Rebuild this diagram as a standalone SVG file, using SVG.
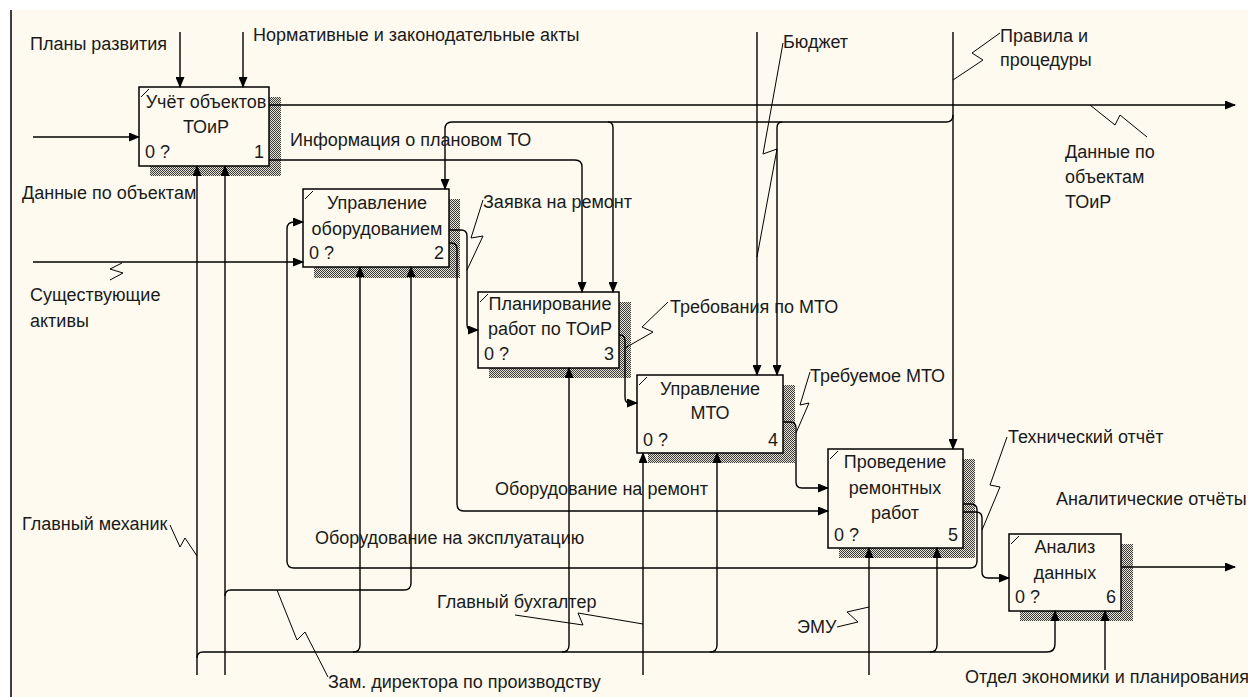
<svg xmlns="http://www.w3.org/2000/svg" width="1248" height="697" viewBox="0 0 1248 697">
<defs>
<pattern id="hatch" width="2" height="2" patternUnits="userSpaceOnUse">
<rect width="2" height="2" fill="#e6e2d6"/>
<rect x="0" y="0" width="1" height="1" fill="#3a3a3a"/>
<rect x="1" y="1" width="1" height="1" fill="#3a3a3a"/>
</pattern>
<marker id="arr" markerWidth="11" markerHeight="9" refX="10" refY="4.5" orient="auto" markerUnits="userSpaceOnUse">
<path d="M0,0 L11,4.5 L0,9 z" fill="#000"/>
</marker>
<style>
.bg{fill:#fefaf0}
.box{fill:#fefaf0;stroke:#000;stroke-width:1.5}
.sh{fill:url(#hatch)}
.tk{stroke:#000;stroke-width:1;fill:none}
.c{fill:none;stroke:#000;stroke-width:1.4}
.a{marker-end:url(#arr)}
.sq{fill:none;stroke:#000;stroke-width:1}
text{font-family:"Liberation Sans",Arial,sans-serif;font-size:18px;fill:#1a1a1a}
.m{text-anchor:middle}
.e{text-anchor:end}
</style>
</defs>
<rect x="0" y="0" width="1248" height="697" fill="#ffffff"/>
<rect class="bg" x="11" y="10" width="1237" height="687"/>
<line x1="11" y1="10" x2="11" y2="697" stroke="#000" stroke-width="1.5"/>

<g id="node1">
<rect class="sh" x="150" y="97" width="131" height="79"/>
<rect class="box" x="139" y="87" width="130" height="79"/>
<path class="tk" d="M141,97 L149,89"/>
<text class="m" x="206" y="108">Учёт объектов</text>
<text class="m" x="206" y="133">ТОиР</text>
<text x="145" y="158">0 ?</text>
<text class="e" x="264" y="158">1</text>
</g>

<g id="node2">
<rect class="sh" x="314" y="199" width="146" height="79"/>
<rect class="box" x="303" y="189" width="146" height="78"/>
<path class="tk" d="M305,199 L313,191"/>
<text class="m" x="377" y="209">Управление</text>
<text class="m" x="377" y="235">оборудованием</text>
<text x="309" y="259">0 ?</text>
<text class="e" x="444" y="259">2</text>
</g>

<g id="node3">
<rect class="sh" x="489" y="302" width="142" height="76"/>
<rect class="box" x="478" y="292" width="141" height="76"/>
<path class="tk" d="M480,302 L488,294"/>
<text class="m" x="550" y="310">Планирование</text>
<text class="m" x="550" y="335">работ по ТОиР</text>
<text x="484" y="360">0 ?</text>
<text class="e" x="614" y="360">3</text>
</g>

<g id="node4">
<rect class="sh" x="648" y="385" width="147" height="78"/>
<rect class="box" x="637" y="375" width="146" height="78"/>
<path class="tk" d="M639,385 L647,377"/>
<text class="m" x="710" y="395">Управление</text>
<text class="m" x="710" y="419">МТО</text>
<text x="643" y="446">0 ?</text>
<text class="e" x="778" y="446">4</text>
</g>

<g id="node5">
<rect class="sh" x="839" y="459" width="136" height="99"/>
<rect class="box" x="828" y="449" width="135" height="99"/>
<path class="tk" d="M830,459 L838,451"/>
<text class="m" x="895" y="468">Проведение</text>
<text class="m" x="895" y="494">ремонтных</text>
<text class="m" x="895" y="519">работ</text>
<text x="834" y="541">0 ?</text>
<text class="e" x="958" y="541">5</text>
</g>

<g id="node6">
<rect class="sh" x="1020" y="544" width="113" height="77"/>
<rect class="box" x="1009" y="534" width="112" height="77"/>
<path class="tk" d="M1011,544 L1019,536"/>
<text class="m" x="1065" y="553">Анализ</text>
<text class="m" x="1065" y="579">данных</text>
<text x="1015" y="603">0 ?</text>
<text class="e" x="1116" y="603">6</text>
</g>

<g id="connectors">
<path class="c a" d="M180,32 V87"/>
<path class="c a" d="M243,32 V87"/>
<path class="c a" d="M33,137 H139"/>
<path class="c a" d="M269,105 H1235"/>
<path class="c a" d="M269,160 H575 Q582,160 582,167 V292"/>
<path class="c a" d="M953,32 V449"/>
<path class="c a" d="M953,115 Q953,122 946,122 H452 Q445,122 445,129 V189"/>
<path class="c a" d="M608,122 Q613,122 613,128 V292"/>
<path class="c a" d="M782,122 Q777,122 777,128 V375"/>
<path class="c a" d="M757,32 V375"/>
<path class="c a" d="M33,262 H303"/>
<path class="c a" d="M963,504 H971 Q977,504 977,510 V561 Q977,568 970,568 H294 Q287,568 287,561 V229 Q287,222 294,222 H303"/>
<path class="c a" d="M449,230 H461 Q467,230 467,236 V324 Q467,330 471,330 H478"/>
<path class="c a" d="M449,243 H451 Q457,243 457,249 V504 Q457,511 464,511 H828"/>
<path class="c a" d="M619,335 H620 Q625,335 625,341 V397 Q625,403 629,403 H637"/>
<path class="c a" d="M783,422 H790 Q796,422 796,428 V482 Q796,488 802,488 H828"/>
<path class="c a" d="M963,512 H976 Q982,512 982,518 V572 Q982,578 988,578 H1009"/>
<path class="c a" d="M1121,567 H1235"/>
<path class="c a" d="M197,675 V166"/>
<path class="c a" d="M197,658 Q197,652 203,652 H1047 Q1055,652 1055,644 V611"/>
<path class="c a" d="M353,652 Q360,652 360,645 V267"/>
<path class="c a" d="M562,652 Q569,652 569,645 V368"/>
<path class="c a" d="M710,652 Q717,652 717,645 V453"/>
<path class="c a" d="M930,652 Q937,652 937,645 V548"/>
<path class="c a" d="M225,675 V166"/>
<path class="c a" d="M225,596 Q225,590 231,590 H404 Q411,590 411,583 V267"/>
<path class="c a" d="M643,675 V453"/>
<path class="c a" d="M869,675 V548"/>
<path class="c a" d="M1105,670 V611"/>
<polyline class="sq" points="122,263 110,269 123,273 110,280"/>
<polyline class="sq" points="170,525 180,547 185,538 197,556"/>
<polyline class="sq" points="277,590 297,640 305,632 328,677"/>
<polyline class="sq" points="515,615 583,625 578,613 643,624"/>
<polyline class="sq" points="837,627 858,622 847,612 869,607"/>
<polyline class="sq" points="668,302 642,327 653,332 625,348"/>
<polyline class="sq" points="810,372 800,405 809,403 796,433"/>
<polyline class="sq" points="783,43 763,154 777,149 757,257"/>
<polyline class="sq" points="1000,33 972,53 983,60 953,80"/>
<polyline class="sq" points="1090,105 1115,125 1120,115 1147,137"/>
<polyline class="sq" points="1007,437 990,485 1000,487 982,530"/>
<polyline class="sq" points="483,200 471,238 483,236 467,270"/>
</g>

<g id="labels">
<text x="30" y="50">Планы развития</text>
<text x="253" y="41">Нормативные и законодательные акты</text>
<text x="22" y="199">Данные по объектам</text>
<text x="290" y="146">Информация о плановом ТО</text>
<text x="30" y="301">Существующие</text>
<text x="30" y="327">активы</text>
<text x="22" y="530">Главный механик</text>
<text x="315" y="544">Оборудование на эксплуатацию</text>
<text x="495" y="495">Оборудование на ремонт</text>
<text x="437" y="608">Главный бухгалтер</text>
<text x="328" y="688">Зам. директора по производству</text>
<text x="797" y="633">ЭМУ</text>
<text x="965" y="683">Отдел экономики и планирования</text>
<text x="1056" y="505">Аналитические отчёты</text>
<text x="1008" y="443">Технический отчёт</text>
<text x="810" y="382">Требуемое МТО</text>
<text x="670" y="313">Требования по МТО</text>
<text x="483" y="208">Заявка на ремонт</text>
<text x="783" y="48">Бюджет</text>
<text x="1000" y="42">Правила и</text>
<text x="1000" y="66">процедуры</text>
<text x="1065" y="158">Данные по</text>
<text x="1065" y="183">объектам</text>
<text x="1065" y="208">ТОиР</text>
</g>
</svg>
